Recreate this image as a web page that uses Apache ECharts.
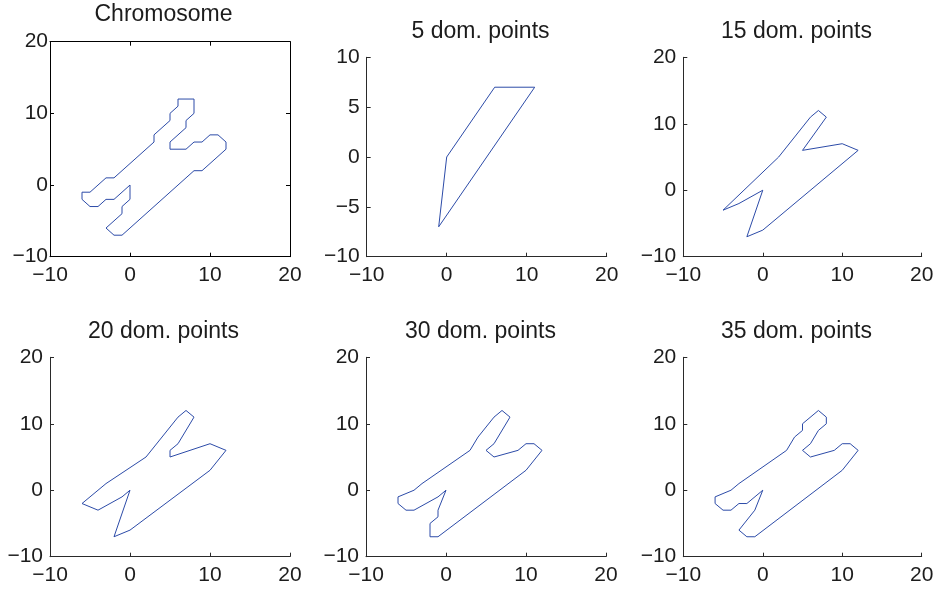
<!DOCTYPE html>
<html>
<head>
<meta charset="utf-8">
<title>Chromosome outline and dominant-point approximations</title>
<script src="https://cdn.jsdelivr.net/npm/echarts@6/dist/echarts.min.js"></script>
<style>
  html, body { margin: 0; padding: 0; background: #fff; }
  #chart { width: 941px; height: 589px; }
</style>
</head>
<body>
<div id="chart"></div>
<script>
// Panel titles
const panelTitles = ['Chromosome', '5 dom. points', '15 dom. points', '20 dom. points', '30 dom. points', '35 dom. points'];

// Axis ranges and tick spacing per panel
const xRange = [-10, 20];
const xStep = 10;
const yRanges = [[-10, 20], [-10, 10], [-10, 20], [-10, 20], [-10, 20], [-10, 20]];
const ySteps = [10, 5, 10, 10, 10, 10];

// Closed outlines (x, y), first point repeated at the end
const chromosome = [[0,0],[0,-2],[-1,-3],[-1,-4],[-3,-6],[-2,-7],[-1,-7],[8,2],[9,2],[12,5],[12,6],[11,7],[10,7],[9,6],[8,6],[7,5],[5,5],[5,6],[7,8],[7,9],[8,10],[8,12],[6,12],[6,11],[5,10],[5,9],[3,7],[3,6],[-2,1],[-3,1],[-5,-1],[-6,-1],[-6,-2],[-5,-3],[-4,-3],[-3,-2],[-2,-2],[0,0]];
const dom5 = [[0,0],[6,7],[11,7],[-1,-7],[0,0]];
const dom15 = [[0,0],[-2,-7],[0,-6],[12,6],[10,7],[5,6],[8,11],[7,12],[6,11],[2,5],[-5,-3],[-3,-2],[0,0]];
const dom20 = [[0,0],[-2,-7],[0,-6],[10,3],[12,6],[10,7],[5,5],[5,6],[6,7],[8,11],[7,12],[6,11],[2,5],[-3,1],[-6,-2],[-4,-3],[-1,-1],[0,0]];
const dom30 = [[0,0],[-1,-3],[-1,-4],[-2,-5],[-2,-7],[-1,-7],[10,3],[12,6],[11,7],[10,7],[9,6],[6,5],[5,6],[6,7],[8,11],[7,12],[6,11],[4,8],[3,6],[-3,1],[-4,0],[-6,-1],[-6,-2],[-5,-3],[-4,-3],[-1,-1],[0,0]];
const dom35 = [[0,0],[-1,-3],[-3,-6],[-2,-7],[-1,-7],[10,3],[12,6],[11,7],[10,7],[9,6],[6,5],[5,6],[6,7],[7,9],[8,10],[8,11],[7,12],[5,10],[5,9],[4,8],[3,6],[-3,1],[-4,0],[-6,-1],[-6,-2],[-5,-3],[-4,-3],[-3,-2],[-2,-2],[0,0]];
const outlines = [chromosome, dom5, dom15, dom20, dom30, dom35];

// Layout of the six panels (pixels)
const grids = [
  { left: 50,    top: 41.7,  width: 240,   height: 215 },
  { left: 366.7, top: 57.3,  width: 240,   height: 199.4 },
  { left: 683.3, top: 57.3,  width: 238.4, height: 199.4 },
  { left: 50,    top: 357.3, width: 240,   height: 199.4 },
  { left: 366,   top: 357.3, width: 240,   height: 199.4 },
  { left: 683.3, top: 357.3, width: 238.4, height: 199.4 }
];
const titleCenters = [[163.5, 14.7], [480.5, 32], [796.5, 32], [163.5, 332], [480.5, 332], [796.5, 332]];

const FONT = "'Liberation Sans', Arial, Helvetica, sans-serif";
const TEXT = '#1c1c1c';
const LINE = '#2c4ba8';
const fmt = v => String(v).replace('-', '\u2212');

const xAxes = [], yAxes = [], series = [], graphics = [];

grids.forEach((g, i) => {
  const boxed = i === 0;
  const axisColor = boxed ? '#000' : '#2a2a2a';
  xAxes.push({
    type: 'value', gridIndex: i, position: 'bottom',
    min: xRange[0], max: xRange[1], interval: xStep,
    axisLine: { show: true, onZero: false, lineStyle: { color: axisColor, width: 1 } },
    axisTick: { show: true, inside: true, length: 4, lineStyle: { color: axisColor } },
    axisLabel: { show: true, margin: 8, fontFamily: FONT, fontSize: 21, color: TEXT, formatter: fmt },
    splitLine: { show: false }
  });
  yAxes.push({
    type: 'value', gridIndex: i, position: 'left',
    min: yRanges[i][0], max: yRanges[i][1], interval: ySteps[i],
    axisLine: { show: true, onZero: false, lineStyle: { color: axisColor, width: 1 } },
    axisTick: { show: true, inside: true, length: 4, lineStyle: { color: axisColor } },
    axisLabel: { show: true, margin: boxed ? 2 : 7, fontFamily: FONT, fontSize: 21, color: TEXT, formatter: fmt },
    splitLine: { show: false }
  });
  series.push({
    type: 'line', xAxisIndex: i, yAxisIndex: i,
    data: outlines[i],
    showSymbol: false, symbol: 'none', smooth: false,
    lineStyle: { color: LINE, width: 1 },
    animation: false, silent: true
  });
  graphics.push({
    type: 'text', x: titleCenters[i][0], y: titleCenters[i][1], silent: true,
    style: { text: panelTitles[i], font: "23px " + FONT, fill: TEXT, align: 'center', verticalAlign: 'middle' }
  });
});

// The first panel is fully boxed: add mirrored axes on top and right
const boxGrid = 0;
xAxes.push({
  type: 'value', gridIndex: boxGrid, position: 'top',
  min: xRange[0], max: xRange[1], interval: xStep,
  axisLine: { show: true, onZero: false, lineStyle: { color: '#000', width: 1 } },
  axisTick: { show: true, inside: true, length: 4, lineStyle: { color: '#000' } },
  axisLabel: { show: false }, splitLine: { show: false }
});
yAxes.push({
  type: 'value', gridIndex: boxGrid, position: 'right',
  min: yRanges[0][0], max: yRanges[0][1], interval: ySteps[0],
  axisLine: { show: true, onZero: false, lineStyle: { color: '#000', width: 1 } },
  axisTick: { show: true, inside: true, length: 4, lineStyle: { color: '#000' } },
  axisLabel: { show: false }, splitLine: { show: false }
});

const chart = echarts.init(document.getElementById('chart'), null, { renderer: 'canvas' });
chart.setOption({
  backgroundColor: '#ffffff',
  animation: false,
  grid: grids.map(g => Object.assign({ containLabel: false, show: false }, g)),
  xAxis: xAxes,
  yAxis: yAxes,
  series: series,
  graphic: graphics
});
</script>
</body>
</html>
